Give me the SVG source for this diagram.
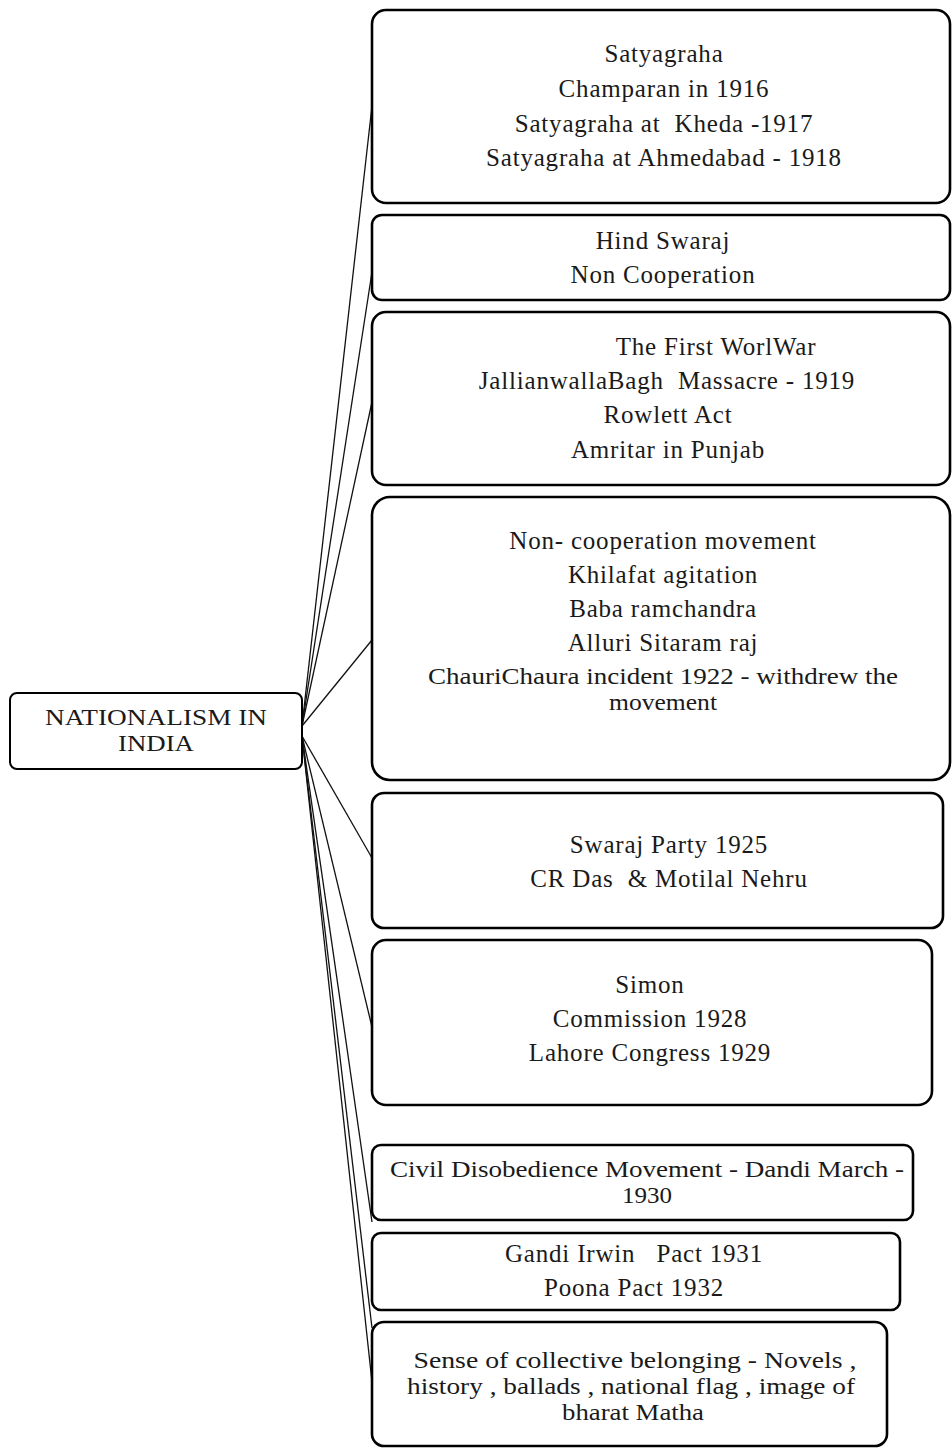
<svg xmlns="http://www.w3.org/2000/svg" width="952" height="1449" viewBox="0 0 952 1449">
<style>
.box{fill:#fff;stroke:#000;stroke-width:2.6}
.root{fill:#fff;stroke:#000;stroke-width:2}
.t{font-family:"Liberation Serif","Times New Roman",serif;font-size:25px;letter-spacing:0.8px;fill:#1a1a1a;text-anchor:middle}
.w{font-size:23px;letter-spacing:0}
.c{stroke:#111;stroke-width:1.3;fill:none}
</style>
<rect width="952" height="1449" fill="#fff"/>
<g id="connectors">
<line class="c" x1="302" y1="726" x2="372" y2="106"/>
<line class="c" x1="302" y1="726" x2="372" y2="272"/>
<line class="c" x1="302" y1="726" x2="372" y2="402"/>
<line class="c" x1="302" y1="726" x2="372" y2="640"/>
<line class="c" x1="302" y1="736" x2="372" y2="858"/>
<line class="c" x1="302" y1="736" x2="372" y2="1027"/>
<line class="c" x1="302" y1="736" x2="372" y2="1222"/>
<line class="c" x1="302" y1="736" x2="372" y2="1328"/>
<line class="c" x1="302" y1="736" x2="372" y2="1382"/>
</g>
<g id="root">
<rect class="root" x="10" y="693" width="292" height="76" rx="7"/>
<text class="t w" x="156" y="725" textLength="222" lengthAdjust="spacingAndGlyphs">NATIONALISM IN</text>
<text class="t w" x="156" y="751" textLength="76" lengthAdjust="spacingAndGlyphs">INDIA</text>
</g>
<g id="n1">
<rect class="box" x="372" y="10" width="578" height="193" rx="14"/>
<text class="t" x="664" y="62">Satyagraha</text>
<text class="t" x="664" y="97">Champaran in 1916</text>
<text class="t" x="664" y="132" xml:space="preserve">Satyagraha at  Kheda -1917</text>
<text class="t" x="664" y="166">Satyagraha at Ahmedabad - 1918</text>
</g>
<g id="n2">
<rect class="box" x="372" y="215" width="578" height="85" rx="10"/>
<text class="t" x="663" y="249">Hind Swaraj</text>
<text class="t" x="663" y="283">Non Cooperation</text>
</g>
<g id="n3">
<rect class="box" x="372" y="312" width="578" height="173" rx="14"/>
<text class="t" x="716" y="355">The First WorlWar</text>
<text class="t" x="667" y="389" xml:space="preserve">JallianwallaBagh  Massacre - 1919</text>
<text class="t" x="668" y="423">Rowlett Act</text>
<text class="t" x="668" y="458">Amritar in Punjab</text>
</g>
<g id="n4">
<rect class="box" x="372" y="497" width="578" height="283" rx="18"/>
<text class="t" x="663" y="549">Non- cooperation movement</text>
<text class="t" x="663" y="583">Khilafat agitation</text>
<text class="t" x="663" y="617">Baba ramchandra</text>
<text class="t" x="663" y="651">Alluri Sitaram raj</text>
<text class="t w" x="663" y="684" textLength="470" lengthAdjust="spacingAndGlyphs">ChauriChaura incident 1922 - withdrew the</text>
<text class="t w" x="663" y="710" textLength="108" lengthAdjust="spacingAndGlyphs">movement</text>
</g>
<g id="n5">
<rect class="box" x="372" y="793" width="571" height="135" rx="12"/>
<text class="t" x="669" y="853">Swaraj Party 1925</text>
<text class="t" x="669" y="887" xml:space="preserve">CR Das  &amp; Motilal Nehru</text>
</g>
<g id="n6">
<rect class="box" x="372" y="940" width="560" height="165" rx="14"/>
<text class="t" x="650" y="993">Simon</text>
<text class="t" x="650" y="1027">Commission 1928</text>
<text class="t" x="650" y="1061">Lahore Congress 1929</text>
</g>
<g id="n7">
<rect class="box" x="372" y="1145" width="541" height="75" rx="9"/>
<text class="t w" x="647" y="1177" textLength="514" lengthAdjust="spacingAndGlyphs">Civil Disobedience Movement - Dandi March -</text>
<text class="t w" x="647" y="1203" textLength="50" lengthAdjust="spacingAndGlyphs">1930</text>
</g>
<g id="n8">
<rect class="box" x="372" y="1233" width="528" height="77" rx="9"/>
<text class="t" x="634" y="1262" xml:space="preserve">Gandi Irwin   Pact 1931</text>
<text class="t" x="634" y="1296">Poona Pact 1932</text>
</g>
<g id="n9">
<rect class="box" x="372" y="1322" width="515" height="124" rx="12"/>
<text class="t w" x="635" y="1368" textLength="443" lengthAdjust="spacingAndGlyphs">Sense of collective belonging - Novels ,</text>
<text class="t w" x="631" y="1394" textLength="448" lengthAdjust="spacingAndGlyphs">history , ballads , national flag , image of</text>
<text class="t w" x="633" y="1420" textLength="142" lengthAdjust="spacingAndGlyphs">bharat Matha</text>
</g>
</svg>
